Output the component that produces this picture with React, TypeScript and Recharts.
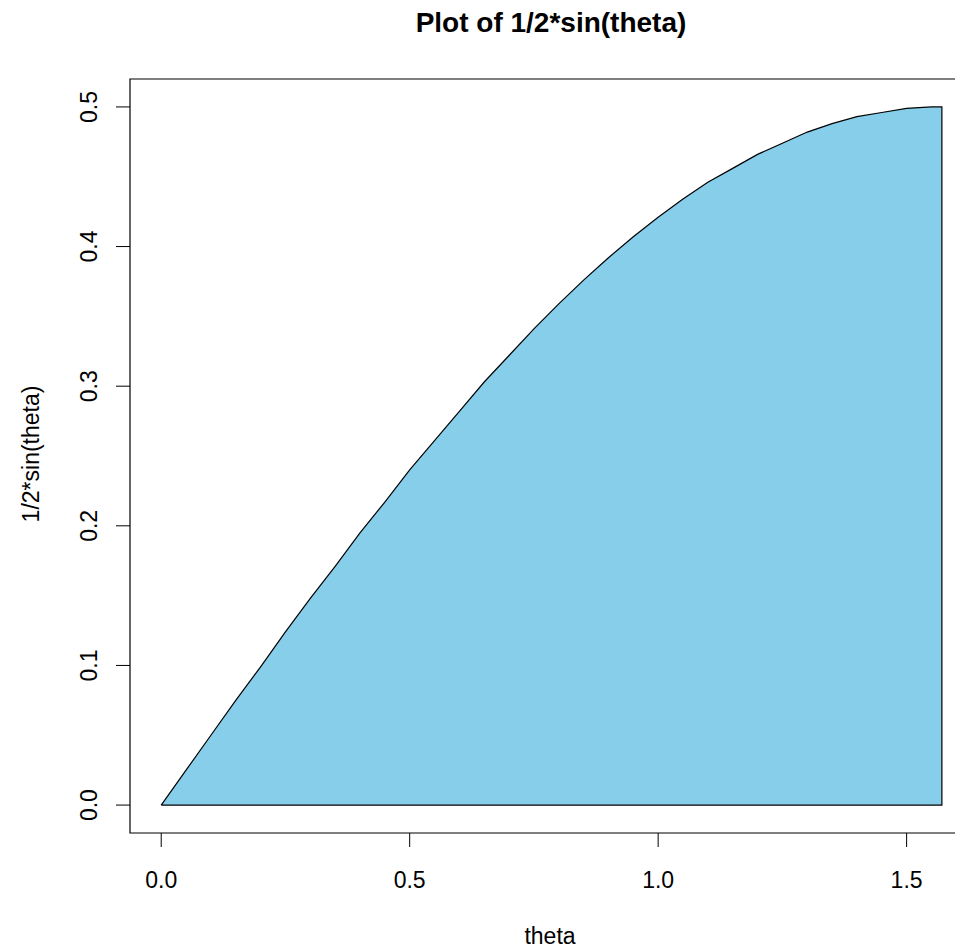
import { ComposedChart, Area, Line, XAxis, YAxis, ReferenceArea, Customized } from "recharts";

const THETA = [
  0, 0.05, 0.1, 0.15, 0.2, 0.25, 0.3, 0.35, 0.4, 0.45, 0.5, 0.55, 0.6, 0.65, 0.7, 0.75,
  0.8, 0.85, 0.9, 0.95, 1.0, 1.05, 1.1, 1.15, 1.2, 1.25, 1.3, 1.35, 1.4, 1.45, 1.5, 1.55, 1.571,
];
const HALF_SIN = [
  0, 0.025, 0.05, 0.075, 0.099, 0.124, 0.148, 0.171, 0.195, 0.217, 0.24, 0.261, 0.282, 0.303, 0.322, 0.341,
  0.359, 0.376, 0.392, 0.407, 0.421, 0.434, 0.446, 0.456, 0.466, 0.474, 0.482, 0.488, 0.493, 0.496, 0.499, 0.5, 0.5,
];
const X_TICKS = [0, 0.5, 1.0, 1.5];
const Y_TICKS = [0, 0.1, 0.2, 0.3, 0.4, 0.5];
const X_DOMAIN = [-0.0628, 1.6336];
const Y_DOMAIN = [-0.02, 0.52];

const curve = THETA.map((t, i) => ({ theta: t, y: HALF_SIN[i] }));
const last = curve[curve.length - 1];
// closed polygon outline: curve, down the right side, back along the base
const outline = [...curve, { theta: last.theta, y: 0 }, { theta: 0, y: 0 }];

const FONT = "'Liberation Sans', Arial, sans-serif";

const XTick = (props: any) => (
  <text x={props.x} y={880} textAnchor="middle" fontSize={23} fill="#000" fontFamily={FONT}>
    {Number(props.payload.value).toFixed(1)}
  </text>
);

const YTick = (props: any) => (
  <text
    x={89}
    y={props.y}
    transform={`rotate(-90 89 ${props.y})`}
    textAnchor="middle"
    fontSize={23}
    fill="#000"
    fontFamily={FONT}
  >
    {Number(props.payload.value).toFixed(1)}
  </text>
);

const Labels = () => (
  <g fontFamily={FONT} fill="#000">
    <text x={543} y={24} textAnchor="middle" fontSize={28} fontWeight="bold">
      Plot of 1/2*sin(theta)
    </text>
    <text x={542} y={936} textAnchor="middle" fontSize={23}>
      theta
    </text>
    <text x={31} y={446} transform="rotate(-90 31 446)" textAnchor="middle" fontSize={23}>
      1/2*sin(theta)
    </text>
  </g>
);

export default function App() {
  return (
    <div style={{ width: 955, height: 941, overflow: "hidden", background: "#fff" }}>
      <ComposedChart
        width={980}
        height={941}
        data={curve}
        margin={{ top: 71, right: 15, bottom: 56, left: 62 }}
        style={{ fontFamily: FONT }}
      >
        <XAxis
          dataKey="theta"
          type="number"
          domain={X_DOMAIN}
          ticks={X_TICKS}
          allowDataOverflow
          axisLine={false}
          tickLine={{ stroke: "#000", strokeWidth: 1 }}
          tickSize={14}
          tick={<XTick />}
          height={60}
        />
        <YAxis
          type="number"
          domain={Y_DOMAIN}
          ticks={Y_TICKS}
          allowDataOverflow
          axisLine={false}
          tickLine={{ stroke: "#000", strokeWidth: 1 }}
          tickSize={14}
          tick={<YTick />}
          width={60}
        />
        <Area
          dataKey="y"
          type="linear"
          baseValue={0}
          fill="#87CEEB"
          fillOpacity={1}
          stroke="none"
          isAnimationActive={false}
        />
        <Line
          data={outline}
          dataKey="y"
          type="linear"
          stroke="#000"
          strokeWidth={1.2}
          dot={false}
          isAnimationActive={false}
        />
        <ReferenceArea
          x1={X_DOMAIN[0]}
          x2={X_DOMAIN[1]}
          y1={Y_DOMAIN[0]}
          y2={Y_DOMAIN[1]}
          fill="none"
          stroke="#000"
          strokeWidth={1.2}
          ifOverflow="visible"
        />
        <Customized component={Labels} />
      </ComposedChart>
    </div>
  );
}
